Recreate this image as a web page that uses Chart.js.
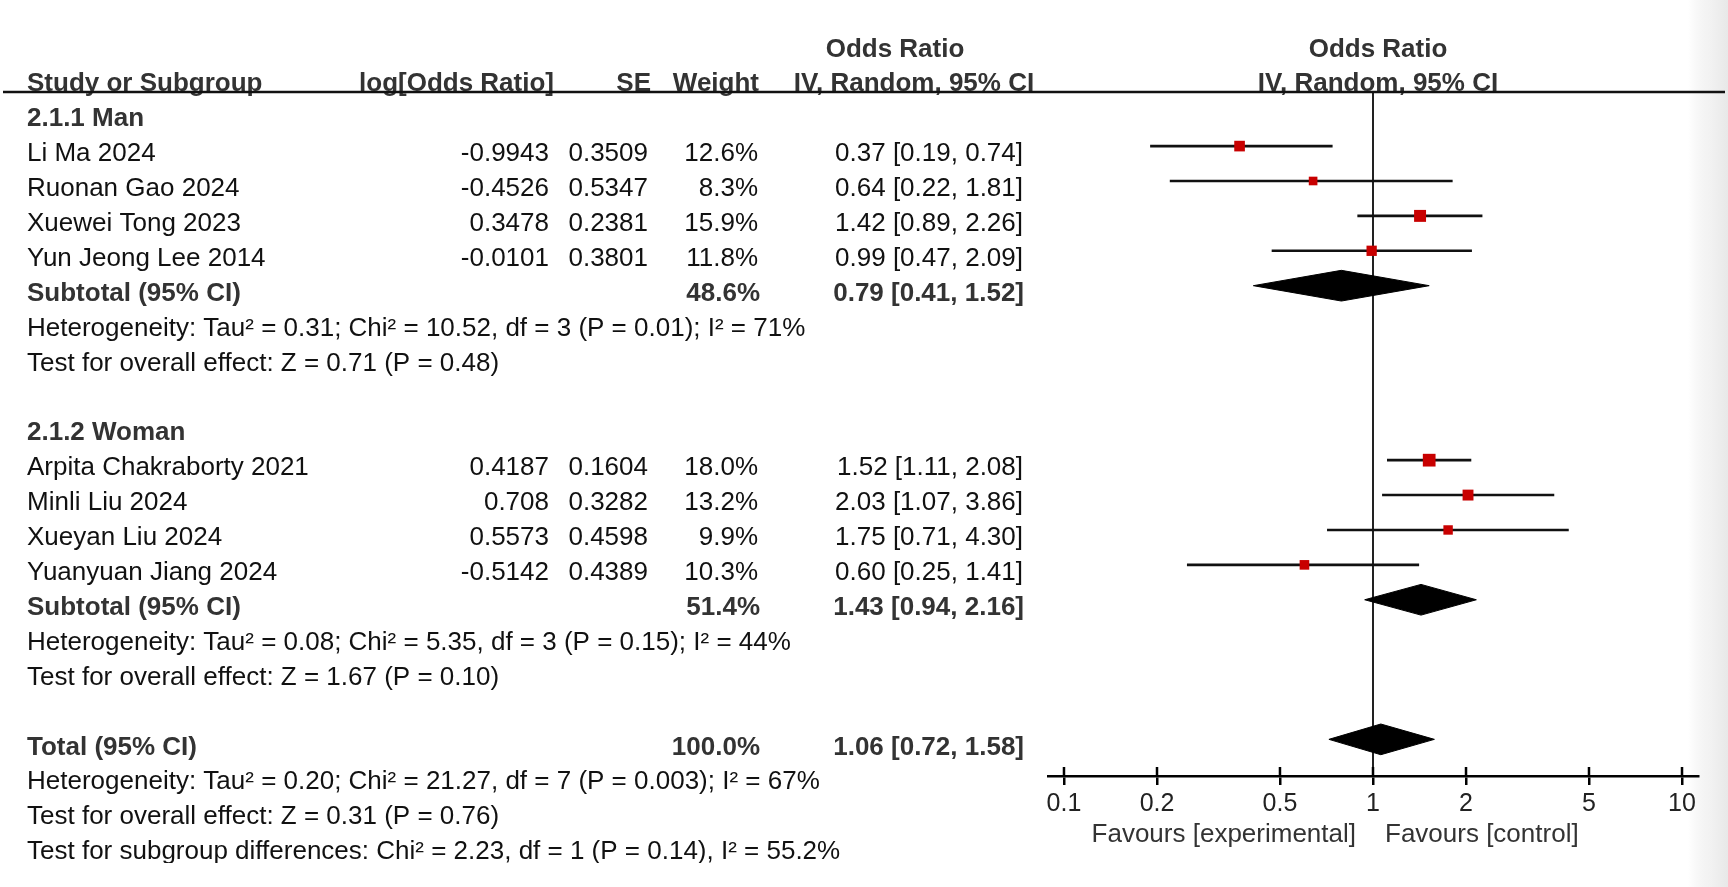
<!DOCTYPE html>
<html lang="en">
<head>
<meta charset="UTF-8">
<title>Odds Ratio forest plot</title>
<script src="https://cdn.jsdelivr.net/npm/chart.js"></script>
<style>
  html, body { margin: 0; padding: 0; background: #fff; overflow: hidden; }
  canvas { display: block; }
</style>
</head>
<body>
<canvas id="forest" width="1728" height="887"></canvas>

<script>
// ---- data ----
const studyNames = ['Li Ma 2024', 'Ruonan Gao 2024', 'Xuewei Tong 2023', 'Yun Jeong Lee 2014',
                    'Arpita Chakraborty 2021', 'Minli Liu 2024', 'Xueyan Liu 2024', 'Yuanyuan Jiang 2024'];
const studyRows = [0, 1, 2, 3, 9, 10, 11, 12];
const logOR = ['-0.9943', '-0.4526', '0.3478', '-0.0101', '0.4187', '0.708', '0.5573', '-0.5142'];
const seValues = ['0.3509', '0.5347', '0.2381', '0.3801', '0.1604', '0.3282', '0.4598', '0.4389'];
const weights = [12.6, 8.3, 15.9, 11.8, 18.0, 13.2, 9.9, 10.3];
const orEst = [0.37, 0.64, 1.42, 0.99, 1.52, 2.03, 1.75, 0.60];
const orLow = [0.19, 0.22, 0.89, 0.47, 1.11, 1.07, 0.71, 0.25];
const orHigh = [0.74, 1.81, 2.26, 2.09, 2.08, 3.86, 4.30, 1.41];

const groupNames = ['2.1.1 Man', '2.1.2 Woman'];
const groupRows = [-1, 8];

const poolLabels = ['Subtotal (95% CI)', 'Subtotal (95% CI)', 'Total (95% CI)'];
const poolRows = [4, 13, 17];
const poolWeights = [48.6, 51.4, 100.0];
const poolEst = [0.79, 1.43, 1.06];
const poolLow = [0.41, 0.94, 0.72];
const poolHigh = [1.52, 2.16, 1.58];

const statLines = [
  'Heterogeneity: Tau² = 0.31; Chi² = 10.52, df = 3 (P = 0.01); I² = 71%',
  'Test for overall effect: Z = 0.71 (P = 0.48)',
  'Heterogeneity: Tau² = 0.08; Chi² = 5.35, df = 3 (P = 0.15); I² = 44%',
  'Test for overall effect: Z = 1.67 (P = 0.10)',
  'Heterogeneity: Tau² = 0.20; Chi² = 21.27, df = 7 (P = 0.003); I² = 67%',
  'Test for overall effect: Z = 0.31 (P = 0.76)',
  'Test for subgroup differences: Chi² = 2.23, df = 1 (P = 0.14), I² = 55.2%'
];
const statRows = [5, 6, 14, 15, 18, 19, 20];

const tickValues = [0.1, 0.2, 0.5, 1, 2, 5, 10];
const tickLabels = ['0.1', '0.2', '0.5', '1', '2', '5', '10'];

// ---- styling ----
const FONT = '"Liberation Sans", Arial, sans-serif';
const REG = '26px ' + FONT;
const BOLD = 'bold 26px ' + FONT;
const textShift = 8;      // table text sits a little below the plotted marks
const diamondHalf = 0.44; // diamond half height, in rows
const yMin = -1.55, yMax = 18.05;
const axisPad = 1.1265;

const fmtCI = (e, l, h) => e.toFixed(2) + ' [' + l.toFixed(2) + ', ' + h.toFixed(2) + ']';

// ---- datasets ----
const squares = {
  data: studyRows.map((r, i) => ({x: orEst[i], y: r})),
  pointStyle: 'rect',
  pointRadius: ctx => 2.12 * Math.sqrt(weights[ctx.dataIndex] || 0),
  pointHoverRadius: ctx => 2.12 * Math.sqrt(weights[ctx.dataIndex] || 0),
  backgroundColor: '#c80000',
  borderWidth: 0,
  showLine: false
};

const ciLines = studyRows.map((r, i) => ({
  data: [{x: orLow[i], y: r}, {x: orHigh[i], y: r}],
  showLine: true,
  borderColor: '#111',
  borderWidth: 2.6,
  pointRadius: 0
}));

const diamonds = poolRows.map((r, i) => ({
  data: [
    {x: poolLow[i], y: r},
    {x: poolEst[i], y: r - diamondHalf},
    {x: poolHigh[i], y: r},
    {x: poolEst[i], y: r + diamondHalf},
    {x: poolLow[i], y: r}
  ],
  showLine: true,
  fill: 'shape',
  backgroundColor: '#000',
  borderColor: '#000',
  borderWidth: 1,
  pointRadius: 0,
  tension: 0
}));

const nullLine = {
  data: [{x: 1, y: yMin}, {x: 1, y: yMax}],
  showLine: true,
  borderColor: '#222',
  borderWidth: 2,
  pointRadius: 0
};

// ---- table text, header rule, tick halves ----
const tablePlugin = {
  id: 'forestTable',
  beforeDraw(chart) {
    const {ctx, width, height} = chart;
    ctx.save();
    ctx.fillStyle = '#fff';
    ctx.fillRect(0, 0, width, height);
    const g = ctx.createLinearGradient(1688, 0, 1728, 0);
    g.addColorStop(0, 'rgba(235,235,235,0)');
    g.addColorStop(0.55, '#f2f2f2');
    g.addColorStop(1, '#e8e8e8');
    ctx.fillStyle = g;
    ctx.fillRect(1688, 0, 40, height);
    ctx.restore();
  },
  afterDraw(chart) {
    const {ctx, chartArea, scales: {x, y}} = chart;
    const rowY = r => y.getPixelForValue(r) + textShift;
    const x1 = x.getPixelForValue(1);

    ctx.save();
    ctx.beginPath();
    ctx.rect(0, 0, chart.width, 863);
    ctx.clip();
    ctx.textBaseline = 'middle';

    const put = (txt, px, r, align, font, color) => {
      ctx.font = font;
      ctx.fillStyle = color;
      ctx.textAlign = align;
      ctx.fillText(txt, px, rowY(r));
    };

    // headers
    put('Odds Ratio', 895, -3, 'center', BOLD, '#333');
    put('Odds Ratio', x1 + 5, -3, 'center', BOLD, '#333');
    put('Study or Subgroup', 27, -2, 'left', BOLD, '#333');
    put('log[Odds Ratio]', 554, -2, 'right', BOLD, '#333');
    put('SE', 651, -2, 'right', BOLD, '#333');
    put('Weight', 759, -2, 'right', BOLD, '#333');
    put('IV, Random, 95% CI', 914, -2, 'center', BOLD, '#333');
    put('IV, Random, 95% CI', x1 + 5, -2, 'center', BOLD, '#333');

    groupNames.forEach((g, i) => put(g, 27, groupRows[i], 'left', BOLD, '#333'));

    studyNames.forEach((n, i) => {
      const r = studyRows[i];
      put(n, 27, r, 'left', REG, '#111');
      put(logOR[i], 549, r, 'right', REG, '#111');
      put(seValues[i], 648, r, 'right', REG, '#111');
      put(weights[i].toFixed(1) + '%', 758, r, 'right', REG, '#111');
      put(fmtCI(orEst[i], orLow[i], orHigh[i]), 1023, r, 'right', REG, '#111');
    });

    poolLabels.forEach((p, i) => {
      const r = poolRows[i];
      put(p, 27, r, 'left', BOLD, '#333');
      put(poolWeights[i].toFixed(1) + '%', 760, r, 'right', BOLD, '#333');
      put(fmtCI(poolEst[i], poolLow[i], poolHigh[i]), 1024, r, 'right', BOLD, '#333');
    });

    statLines.forEach((s, i) => put(s, 27, statRows[i], 'left', REG, '#111'));
    ctx.restore();

    // header rule
    ctx.save();
    ctx.strokeStyle = '#111';
    ctx.lineWidth = 2.5;
    ctx.beginPath();
    ctx.moveTo(3, chartArea.top);
    ctx.lineTo(1725, chartArea.top);
    ctx.stroke();

    // upper half of the axis tick marks
    ctx.strokeStyle = '#000';
    ctx.lineWidth = 2.5;
    ctx.beginPath();
    x.ticks.forEach(t => {
      const px = x.getPixelForValue(t.value);
      ctx.moveTo(px, chartArea.bottom - 9);
      ctx.lineTo(px, chartArea.bottom);
    });
    ctx.stroke();

    // favours labels
    ctx.font = '26px ' + FONT;
    ctx.fillStyle = '#333';
    ctx.textBaseline = 'middle';
    ctx.textAlign = 'right';
    ctx.fillText('Favours [experimental]', x1 - 17, chartArea.bottom + 59);
    ctx.textAlign = 'left';
    ctx.fillText('Favours [control]', x1 + 12, chartArea.bottom + 59);
    ctx.restore();
  }
};

new Chart(document.getElementById('forest'), {
  type: 'scatter',
  data: {datasets: [squares, ...ciLines, ...diamonds, nullLine]},
  options: {
    responsive: false,
    animation: false,
    events: [],
    layout: {padding: {left: 1048, right: 30, top: 92, bottom: 71}},
    plugins: {legend: {display: false}, tooltip: {enabled: false}},
    scales: {
      x: {
        type: 'logarithmic',
        min: 0.1 / axisPad,
        max: 10 * axisPad,
        afterBuildTicks: scale => { scale.ticks = tickValues.map(v => ({value: v})); },
        afterFit: scale => { scale.height = 40; },
        ticks: {
          autoSkip: false,
          maxRotation: 0,
          padding: 4,
          color: '#222',
          font: {family: FONT, size: 25},
          callback: (v, i) => tickLabels[i]
        },
        grid: {drawOnChartArea: false, drawTicks: true, tickLength: 9, color: '#000', lineWidth: 2.5},
        border: {display: true, color: '#000', width: 2.5}
      },
      y: {
        type: 'linear',
        display: false,
        reverse: true,
        min: yMin,
        max: yMax
      }
    }
  },
  plugins: [tablePlugin]
});
</script>
</body>
</html>
